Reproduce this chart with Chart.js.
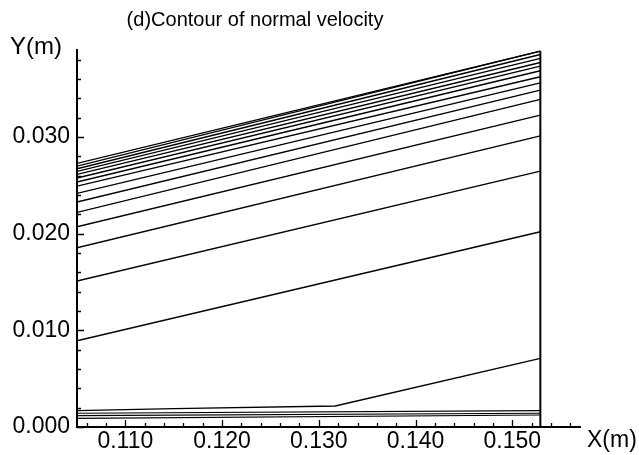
<!DOCTYPE html>
<html>
<head>
<meta charset="utf-8">
<script src="https://cdn.jsdelivr.net/npm/chart.js@4.4.0/dist/chart.umd.min.js"></script>
<style>
  body { margin: 0; background: #fff; }
  #wrap { width: 639px; height: 455px; }
</style>
</head>
<body>
<div id="wrap"><canvas id="contour-chart" width="639" height="455"></canvas></div>
<script>
// Contour levels: y at the left edge and at the right edge
const edgeX = [0.105, 0.1529];
const contourLeftY = [0.02727, 0.02699, 0.02671, 0.02644, 0.02613, 0.02575, 0.02534, 0.02492,
  0.02417, 0.02327, 0.02220, 0.02071, 0.01854, 0.01510, 0.00892];
const contourRightY = [0.03888, 0.03888, 0.03854, 0.03813, 0.03771, 0.03733, 0.03685, 0.03623,
  0.03560, 0.03485, 0.03389, 0.03226, 0.03012, 0.02647, 0.02020];

// Near-wall contours
const kinkX = [0.105, 0.115, 0.1317, 0.1529];
const kinkY = [0.00169, 0.00190, 0.00218, 0.00710];
const wallLeftY = [0.00142, 0.00117, 0.00090];
const wallRightY = [0.00169, 0.00142, 0.00124];

// Right boundary of the domain
const boundaryX = 0.1529;
const boundaryY = [0, 0.03888];

// Axes
const xRange = [0.105, 0.157];
const yRange = [0, 0.039];
const xMajorTicks = [0.110, 0.120, 0.130, 0.140, 0.150];
const yMajorTicks = [0.000, 0.010, 0.020, 0.030];
const minorStep = 0.002;

const lineStyle = { borderColor: "#000", borderWidth: 1.4, pointRadius: 0, tension: 0, fill: false };

const datasets = [];
for (let i = 0; i < contourLeftY.length; i++) {
  datasets.push({
    ...lineStyle,
    data: [{ x: edgeX[0], y: contourLeftY[i] }, { x: edgeX[1], y: contourRightY[i] }],
  });
}
datasets.push({ ...lineStyle, data: kinkX.map((x, i) => ({ x: x, y: kinkY[i] })) });
for (let i = 0; i < wallLeftY.length; i++) {
  datasets.push({
    ...lineStyle,
    borderWidth: 1.2,
    data: [{ x: edgeX[0], y: wallLeftY[i] }, { x: edgeX[1], y: wallRightY[i] }],
  });
}
datasets.push({
  ...lineStyle,
  borderWidth: 2,
  data: boundaryY.map((y) => ({ x: boundaryX, y: y })),
});

function minorTicks(min, max) {
  const ticks = [];
  const start = Math.ceil(min / minorStep - 1e-9);
  for (let k = start; k * minorStep <= max + 1e-9; k++) {
    ticks.push({ value: +(k * minorStep).toFixed(4) });
  }
  return ticks;
}

function isMajor(value, majors) {
  return majors.some((m) => Math.abs(m - value) < 1e-7);
}

const FONT = "'Liberation Sans', Arial, Helvetica, sans-serif";

// Tick marks point inward, axis names and the title sit around the plot
const decorations = {
  id: "decorations",
  beforeDraw(chart) {
    const ctx = chart.ctx;
    ctx.save();
    ctx.fillStyle = "#fff";
    ctx.fillRect(0, 0, chart.width, chart.height);
    ctx.restore();
  },
  afterDraw(chart) {
    const ctx = chart.ctx;
    const xs = chart.scales.x;
    const ys = chart.scales.y;
    ctx.save();
    ctx.strokeStyle = "#000";
    ctx.lineWidth = 1.3;
    ctx.beginPath();
    for (const t of xs.ticks) {
      const px = Math.round(xs.getPixelForValue(t.value)) + 0.5;
      const len = isMajor(t.value, xMajorTicks) ? 7 : 4;
      ctx.moveTo(px, ys.bottom);
      ctx.lineTo(px, ys.bottom - len);
    }
    for (const t of ys.ticks) {
      const py = Math.round(ys.getPixelForValue(t.value)) + 0.5;
      const len = isMajor(t.value, yMajorTicks) ? 7 : 4;
      ctx.moveTo(xs.left, py);
      ctx.lineTo(xs.left + len, py);
    }
    ctx.stroke();

    ctx.fillStyle = "#000";
    ctx.font = "20px " + FONT;
    ctx.textAlign = "center";
    ctx.textBaseline = "middle";
    ctx.fillText("(d)Contour of normal velocity", 255, 20);

    ctx.font = "24px " + FONT;
    ctx.textAlign = "right";
    ctx.fillText("Y(m)", 62, 47);
    ctx.font = "23px " + FONT;
    ctx.textAlign = "left";
    ctx.fillText("X(m)", 587, 441);
    ctx.restore();
  },
};

new Chart(document.getElementById("contour-chart"), {
  type: "line",
  data: { datasets: datasets },
  options: {
    responsive: false,
    animation: false,
    events: [],
    layout: { padding: { top: 50, right: 59, left: 0, bottom: 0 } },
    plugins: {
      legend: { display: false },
      tooltip: { enabled: false },
      title: { display: false },
    },
    scales: {
      x: {
        type: "linear",
        min: xRange[0],
        max: xRange[1],
        afterBuildTicks: (scale) => { scale.ticks = minorTicks(xRange[0], xRange[1]); },
        afterFit: (scale) => { scale.height = 28; },
        grid: { display: false, drawTicks: false },
        border: { display: true, color: "#000", width: 2 },
        ticks: {
          autoSkip: false,
          maxRotation: 0,
          padding: 1,
          color: "#000",
          font: { family: FONT, size: 23 },
          callback: (value) => (isMajor(value, xMajorTicks) ? value.toFixed(3) : ""),
        },
      },
      y: {
        type: "linear",
        min: yRange[0],
        max: yRange[1],
        afterBuildTicks: (scale) => { scale.ticks = minorTicks(yRange[0], yRange[1]); },
        afterFit: (scale) => { scale.width = 77; },
        grid: { display: false, drawTicks: false },
        border: { display: true, color: "#000", width: 2 },
        ticks: {
          autoSkip: false,
          padding: 7,
          color: "#000",
          font: { family: FONT, size: 23 },
          callback: (value) => (isMajor(value, yMajorTicks) ? value.toFixed(3) : ""),
        },
      },
    },
  },
  plugins: [decorations],
});
</script>
</body>
</html>
